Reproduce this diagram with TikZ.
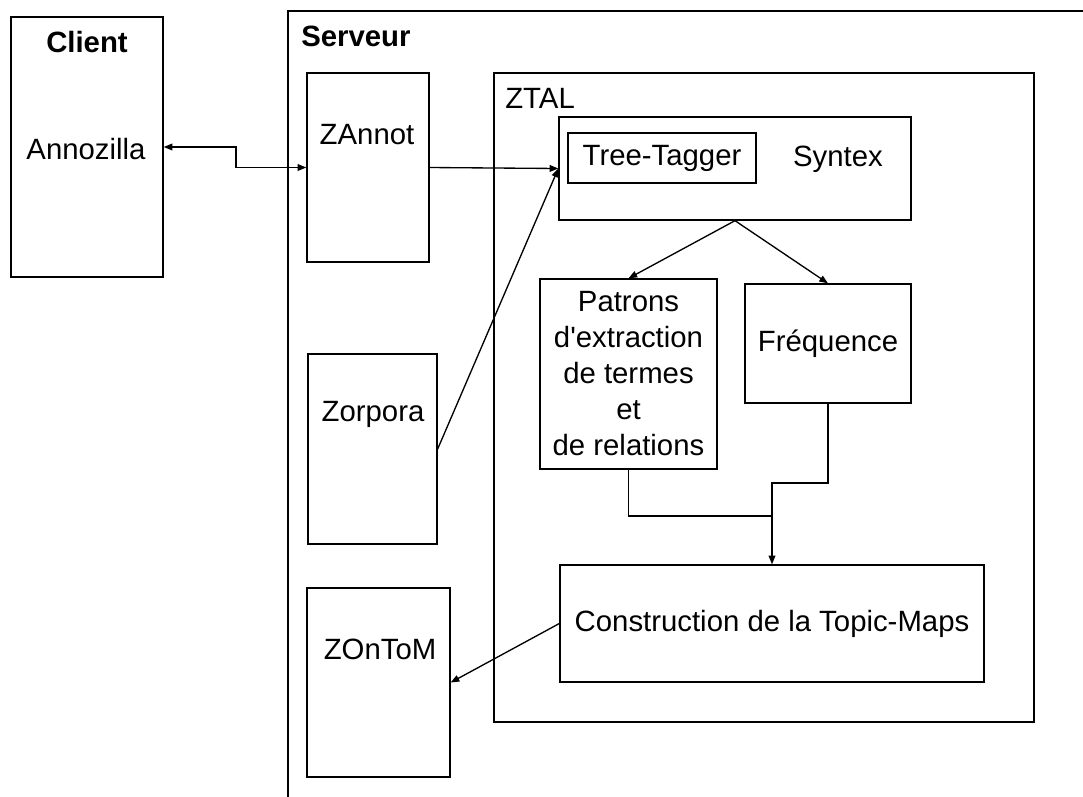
\documentclass[tikz,border=0pt]{standalone}
\usepackage{fontspec}
\setmainfont{Liberation Sans}[Ligatures=TeXOff]
\usetikzlibrary{arrows.meta}
\begin{document}
\begin{tikzpicture}[x=0.75pt,y=-0.75pt,
  box/.style={draw=black, line width=1pt, inner sep=0pt, fill=none},
  lbl/.style={inner sep=0pt, font=\fontsize{22pt}{27pt}\selectfont, text=black},
  blbl/.style={lbl, font=\fontsize{22pt}{27pt}\selectfont\bfseries},
  conn/.style={draw=black, line width=1pt},
  tip/.style={-{Triangle[length=6.5pt,width=5pt]}}
]
\useasboundingbox[fill=white] (0,0) rectangle (1083,797);
% Serveur frame (open at right and bottom)
\coordinate (sv1) at (288,797);
\coordinate (sv2) at (288,11);
\coordinate (sv3) at (1083,11);
\draw[conn] (sv1) -- (sv2) -- (sv3);
\node[blbl, anchor=west] (serveur) at (301,36) {Serveur};

% Client
\node[box, minimum width=114pt, minimum height=195pt] (client) at (87,147) {};
\node[blbl] (clientlbl) at (87,42) {Client};
\node[lbl] (annozilla) at (86,149) {Annozilla};

% Server modules
\node[box, minimum width=91.5pt, minimum height=141.75pt] (zannot) at (368,167.5) {};
\node[lbl] (zannotlbl) at (367,135) {ZAnnot};
\node[box, minimum width=96.75pt, minimum height=142.5pt] (zorpora) at (372.5,449) {};
\node[lbl] (zorporalbl) at (373,414) {Zorpora};
\node[box, minimum width=107.25pt, minimum height=141.75pt] (zontom) at (378.5,682.5) {};
\node[lbl] (zontomlbl) at (380,649) {ZOnToM};

% ZTAL
\node[box, minimum width=405pt, minimum height=486.75pt] (ztal) at (764,397.5) {};
\node[lbl, anchor=west] (ztallbl) at (505,98) {ZTAL};
\node[box, minimum width=264pt, minimum height=77.25pt] (syntex) at (735,168.5) {};
\node[lbl] (syntexlbl) at (838,159) {Syntex};
\node[box, lbl, draw=black, line width=1pt, minimum width=141pt, minimum height=37.5pt] (tree) at (662,158) {Tree-Tagger};
\node[box, lbl, draw=black, line width=1pt, minimum width=132.75pt, minimum height=142.5pt, align=center] (patrons) at (628.5,374) {Patrons\\d'extraction\\de termes\\et\\de relations};
\node[box, lbl, draw=black, line width=1pt, minimum width=124.5pt, minimum height=89.25pt] (freq) at (828,343.5) {Fréquence};
\node[box, lbl, draw=black, line width=1pt, minimum width=318pt, minimum height=87.75pt] (constr) at (772,623.5) {Construction de la Topic-Maps};

% Connectors
\coordinate (c1) at (236,147);
\draw[conn, {Triangle[length=6.5pt,width=5pt]}-{Triangle[length=6.5pt,width=5pt]}] (client.east) -- (c1) |- (zannot.west);
\draw[conn, tip] (zannot.east) -- (syntex.west);
\draw[conn, tip] (zorpora.east) -- (syntex.west);
\draw[conn, tip] (syntex.south) -- (patrons.north);
\draw[conn, tip] (syntex.south) -- (freq.north);
\coordinate (j1) at (772,483);
\coordinate (j2) at (772,516);
\draw[conn] (patrons.south) |- (j2);
\draw[conn, tip] (freq.south) |- (j1) -- (constr.north);
\draw[conn, tip] (constr.west) -- (zontom.east);
\end{tikzpicture}
\end{document}
